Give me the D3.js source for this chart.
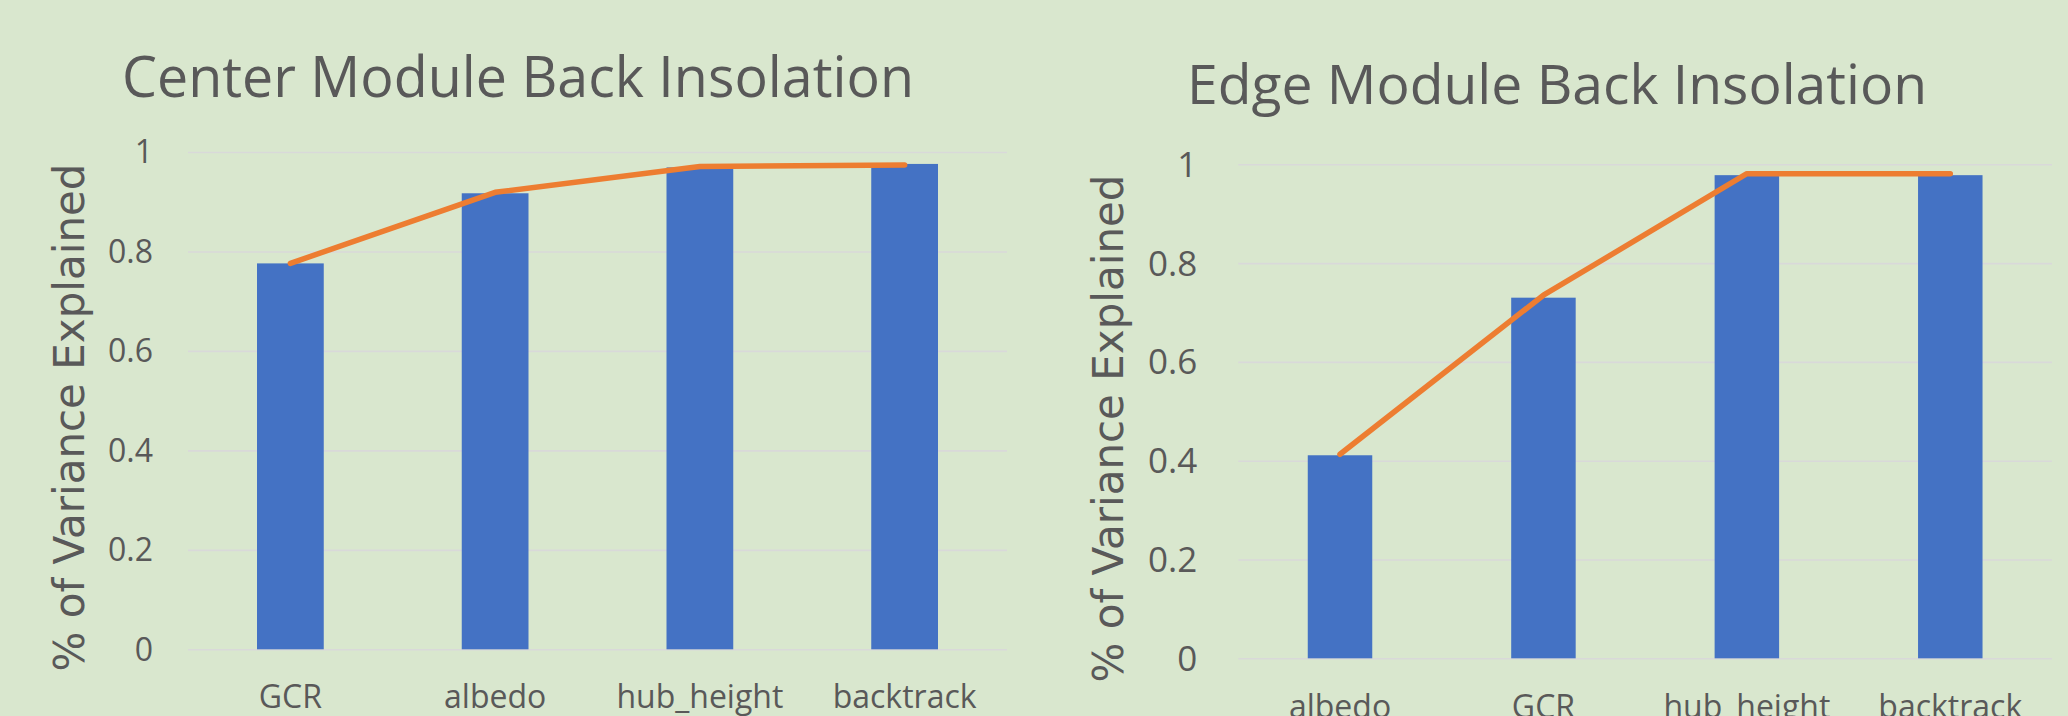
<!DOCTYPE html>
<html>
<head>
<meta charset="utf-8">
<script src="https://cdn.jsdelivr.net/npm/d3@7"></script>
<style>
  html, body { margin: 0; padding: 0; background: #D9E7CE; }
  svg { display: block; }
</style>
</head>
<body>
<svg id="chart" width="2068" height="716"></svg>
<script>
// ---- data ----
const centerTitle = "Center Module Back Insolation";
const centerCategories = ["GCR", "albedo", "hub_height", "backtrack"];
const centerBarValues = [0.776, 0.917, 0.969, 0.976];
const centerLineValues = [0.776, 0.919, 0.971, 0.974];

const edgeTitle = "Edge Module Back Insolation";
const edgeCategories = ["albedo", "GCR", "hub_height", "backtrack"];
const edgeBarValues = [0.411, 0.730, 0.978, 0.978];
const edgeLineValues = [0.413, 0.735, 0.981, 0.981];

const yTickValues = [0, 0.2, 0.4, 0.6, 0.8, 1];
const yTickLabels = ["0", "0.2", "0.4", "0.6", "0.8", "1"];
const yAxisTitle = "% of Variance Explained";

// ---- styling ----
const BAR_COLOR = "#4472C4";
const LINE_COLOR = "#ED7D31";
const TEXT_COLOR = "#595959";
const GRID_COLOR = "#D9D9D9";
const UI_FONT = "'Open Sans', 'Noto Sans', sans-serif";
const TITLE_FONT_AXIS = "'DejaVu Sans', Verdana, sans-serif";

const svg = d3.select("#chart");

function drawPanel(opts) {
  const g = svg.append("g");

  const x = d3.scaleBand()
    .domain(opts.categories)
    .range([opts.left, opts.right])
    .paddingInner(opts.gap)
    .paddingOuter(opts.gap / 2);

  const y = d3.scaleLinear()
    .domain([0, 1])
    .range([opts.bottom, opts.top]);

  // horizontal gridlines + tick labels
  const yAxis = d3.axisLeft(y)
    .tickValues(yTickValues)
    .tickFormat((d, i) => yTickLabels[i])
    .tickSize(-(opts.right - opts.left))
    .tickPadding(opts.tickPad);

  const ya = g.append("g")
    .attr("transform", `translate(${opts.left},0)`)
    .call(yAxis);
  ya.select(".domain").remove();
  ya.selectAll(".tick line")
    .attr("stroke", GRID_COLOR)
    .attr("stroke-width", 1.6);
  ya.selectAll(".tick text")
    .attr("fill", TEXT_COLOR)
    .attr("font-family", UI_FONT)
    .attr("font-size", opts.tickFont)
    .attr("dy", "0.34em");

  // bars
  g.append("g").selectAll("rect")
    .data(opts.categories)
    .join("rect")
    .attr("x", d => x(d))
    .attr("width", x.bandwidth())
    .attr("y", (d, i) => y(opts.bars[i]))
    .attr("height", (d, i) => y(0) - y(opts.bars[i]))
    .attr("fill", BAR_COLOR);

  // line
  const line = d3.line()
    .x((d, i) => x(opts.categories[i]) + x.bandwidth() / 2)
    .y(d => y(d));

  g.append("path")
    .datum(opts.line)
    .attr("d", line)
    .attr("fill", "none")
    .attr("stroke", LINE_COLOR)
    .attr("stroke-width", 5.5)
    .attr("stroke-linecap", "round")
    .attr("stroke-linejoin", "round");

  // category labels
  const xAxis = d3.axisBottom(x).tickSize(0).tickPadding(0);
  const xa = g.append("g")
    .attr("transform", `translate(0,${opts.catBaseline})`)
    .call(xAxis);
  xa.select(".domain").remove();
  xa.selectAll(".tick text")
    .attr("y", 0)
    .attr("dy", 0)
    .attr("fill", TEXT_COLOR)
    .attr("font-family", UI_FONT)
    .attr("font-size", opts.catFont);

  // chart title
  g.append("text")
    .attr("x", opts.titleX)
    .attr("y", opts.titleBaseline)
    .attr("text-anchor", "middle")
    .attr("fill", TEXT_COLOR)
    .attr("font-family", UI_FONT)
    .attr("font-size", opts.titleFont)
    .attr("textLength", opts.titleWidth)
    .attr("lengthAdjust", "spacingAndGlyphs")
    .text(opts.title);

  // y-axis title
  g.append("text")
    .attr("transform", `translate(${opts.yTitleX},${opts.yTitleY}) rotate(-90)`)
    .attr("text-anchor", "middle")
    .attr("fill", TEXT_COLOR)
    .attr("font-family", TITLE_FONT_AXIS)
    .attr("font-size", 43)
    .attr("textLength", 508)
    .attr("lengthAdjust", "spacingAndGlyphs")
    .text(yAxisTitle);
}

drawPanel({
  title: centerTitle,
  categories: centerCategories,
  bars: centerBarValues,
  line: centerLineValues,
  left: 188, right: 1007, top: 152, bottom: 649.3,
  gap: 0.674,
  tickPad: 35, tickFont: 32,
  catBaseline: 708, catFont: 32,
  titleX: 518, titleBaseline: 96.5, titleFont: 57, titleWidth: 792,
  yTitleX: 84, yTitleY: 417.5
});

drawPanel({
  title: edgeTitle,
  categories: edgeCategories,
  bars: edgeBarValues,
  line: edgeLineValues,
  left: 1238.3, right: 2052, top: 164.3, bottom: 658.3,
  gap: 0.683,
  tickPad: 41, tickFont: 35,
  catBaseline: 718, catFont: 32,
  titleX: 1557, titleBaseline: 104.3, titleFont: 55, titleWidth: 740,
  yTitleX: 1123, yTitleY: 428.5
});
</script>
</body>
</html>
